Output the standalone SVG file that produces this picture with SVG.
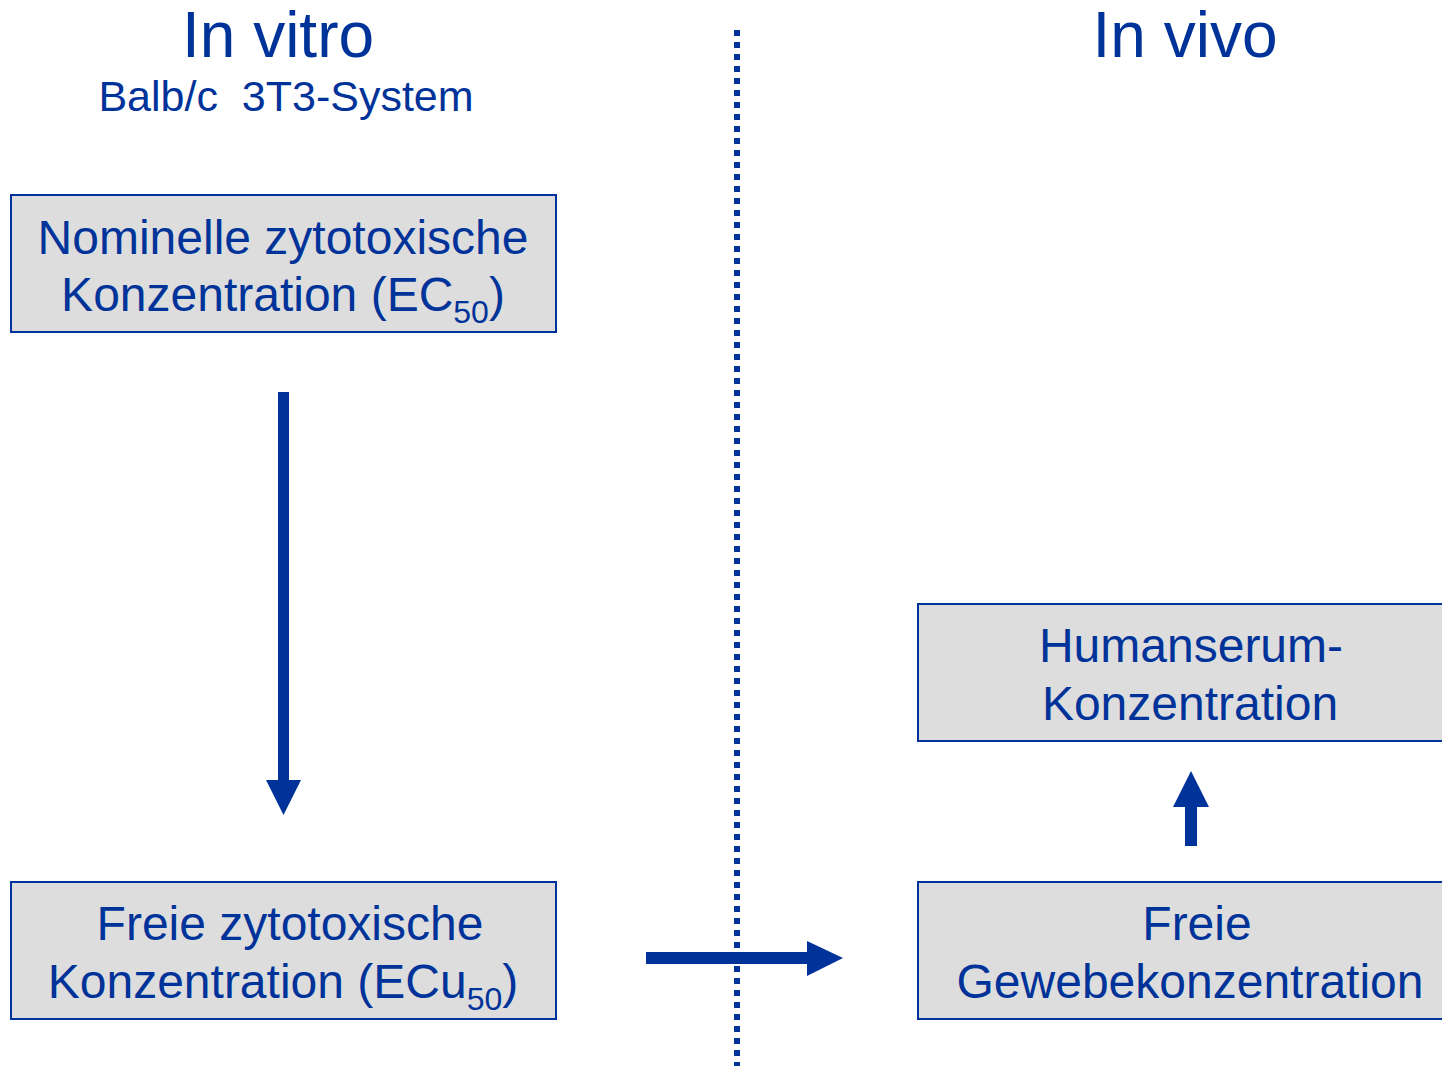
<svg xmlns="http://www.w3.org/2000/svg" width="1442" height="1066" viewBox="0 0 1442 1066">
<style>
.box{fill:#dddddd;stroke:#003399;stroke-width:2}
.t{font-family:"Liberation Sans",Arial,sans-serif;fill:#003399;text-anchor:middle}
.bt{font-size:48px}
.sub{font-size:32px}
.arr{fill:#003399}
</style>
<rect width="1442" height="1066" fill="#ffffff"/>
<g id="titles">
<text class="t" x="278" y="57" font-size="64">In vitro</text>
<text class="t" x="286" y="111" font-size="43" xml:space="preserve">Balb/c  3T3-System</text>
<text class="t" x="1185" y="57" font-size="64">In vivo</text>
</g>
<g id="divider">
<line x1="737" y1="30" x2="737" y2="1066" stroke="#003399" stroke-width="6" stroke-dasharray="6 6"/>
</g>
<g id="node-nominal">
<rect class="box" x="11" y="195" width="545" height="137"/>
<text class="t bt" x="283" y="254">Nominelle zytotoxische</text>
<text class="t bt" x="283" y="311">Konzentration (EC<tspan class="sub" dy="12">50</tspan><tspan dy="-12">)</tspan></text>
</g>
<g id="node-free">
<rect class="box" x="11" y="882" width="545" height="137"/>
<text class="t bt" x="290" y="940">Freie zytotoxische</text>
<text class="t bt" x="283" y="998">Konzentration (ECu<tspan class="sub" dy="12">50</tspan><tspan dy="-12">)</tspan></text>
</g>
<g id="node-serum">
<rect class="box" x="918" y="604" width="530" height="137"/>
<text class="t bt" x="1191" y="662">Humanserum-</text>
<text class="t bt" x="1190" y="720">Konzentration</text>
</g>
<g id="node-tissue">
<rect class="box" x="918" y="882" width="530" height="137"/>
<text class="t bt" x="1197" y="940">Freie</text>
<text class="t bt" x="1190" y="998">Gewebekonzentration</text>
</g>
<g id="connectors">
<polygon class="arr" points="278,392 289,392 289,780 301,780 283.5,815 266,780 278,780"/>
<polygon class="arr" points="646,952 807,952 807,941 843,958 807,976 807,964 646,964"/>
<polygon class="arr" points="1185,846 1197,846 1197,807 1209,807 1191,771 1173,807 1185,807"/>
</g>
</svg>
